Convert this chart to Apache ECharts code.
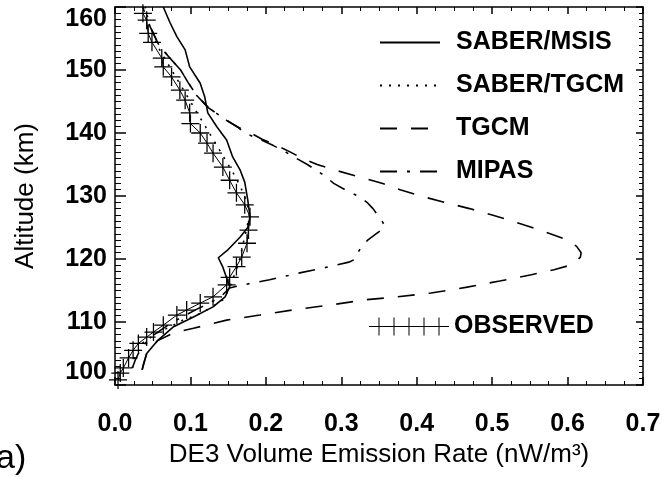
<!DOCTYPE html>
<html><head><meta charset="utf-8">
<script src="https://cdn.jsdelivr.net/npm/echarts@6/dist/echarts.min.js"></script>
<style>html,body{margin:0;padding:0;background:#fff}#c{width:662px;height:477px}</style>
</head><body><div id="c"></div>
<script>
const FONT = '"Liberation Sans", Arial, Helvetica, sans-serif';

// ---- data: altitude (km) and DE3 VER (nW/m^3) ----
const msisAlt = [102.4, 103, 105, 107, 109.2, 110.8, 112.4, 114, 115.6, 117, 118.7, 120.2, 121.5, 123.5, 125, 126.7, 129.4, 132.2, 134.1, 136.2, 138.9, 141, 143.2, 145.7, 147.9, 150.5, 153.2, 155.3, 157.5, 160];
const msisVal = [0.036, 0.037, 0.042, 0.056, 0.077, 0.104, 0.130, 0.146, 0.152, 0.148, 0.143, 0.137, 0.150, 0.166, 0.176, 0.179, 0.176, 0.172, 0.166, 0.156, 0.148, 0.135, 0.123, 0.119, 0.113, 0.099, 0.093, 0.082, 0.073, 0.064];

const stgcmAlt = [102.7, 104.4, 106.7, 108.3, 109.2, 110.3, 111.1, 112.2, 113.5, 115.4, 116.7, 118.7, 120.3, 122.5, 125, 127, 129, 131, 133, 135, 137, 139, 141, 143, 145, 147, 149, 151, 153, 155, 157, 160];
const stgcmVal = [0.023, 0.026, 0.037, 0.056, 0.073, 0.090, 0.109, 0.126, 0.143, 0.152, 0.156, 0.162, 0.166, 0.170, 0.175, 0.178, 0.175, 0.168, 0.160, 0.150, 0.140, 0.130, 0.120, 0.110, 0.100, 0.090, 0.080, 0.070, 0.060, 0.052, 0.046, 0.040];

const tgcmAlt = [102.4, 105, 107, 108.3, 109, 110.3, 111.1, 112, 112.7, 113.5, 114, 114.6, 115.5, 116.5, 117.5, 118.3, 119, 119.5, 120.3, 121, 122, 123, 124, 125, 126, 127, 128, 129, 130, 131, 132, 133, 134, 135, 136, 137, 138, 139, 140, 141, 142, 144, 146, 148, 150, 152, 154, 156, 158, 160];
const tgcmVal = [0.036, 0.042, 0.056, 0.078, 0.104, 0.148, 0.192, 0.240, 0.286, 0.330, 0.375, 0.419, 0.465, 0.510, 0.552, 0.582, 0.603, 0.610, 0.617, 0.618, 0.612, 0.600, 0.577, 0.553, 0.527, 0.500, 0.470, 0.437, 0.405, 0.378, 0.355, 0.325, 0.295, 0.268, 0.248, 0.232, 0.215, 0.195, 0.180, 0.162, 0.148, 0.124, 0.108, 0.097, 0.087, 0.072, 0.058, 0.050, 0.042, 0.037];

const mipasAlt = [102.7, 104, 105, 106, 107, 108, 109, 110, 111, 112, 113, 114, 115.4, 115.9, 116.7, 117.8, 118.8, 119.5, 120, 121, 122, 123, 124, 124.5, 125.2, 126, 127, 128, 129, 130, 131, 132, 133, 134, 135, 136, 137, 138, 139, 140, 141, 142, 144, 146, 148, 150, 152, 154, 156, 158, 160];
const mipasVal = [0.023, 0.027, 0.031, 0.036, 0.043, 0.052, 0.064, 0.077, 0.092, 0.108, 0.125, 0.140, 0.152, 0.170, 0.205, 0.245, 0.285, 0.310, 0.319, 0.322, 0.327, 0.335, 0.346, 0.352, 0.358, 0.354, 0.348, 0.342, 0.334, 0.322, 0.305, 0.290, 0.280, 0.268, 0.255, 0.240, 0.226, 0.210, 0.192, 0.172, 0.162, 0.148, 0.124, 0.108, 0.097, 0.087, 0.072, 0.058, 0.050, 0.042, 0.037];

const obsAlt = [100.8, 101.9, 102.7, 104.3, 105.5, 106.6, 107.6, 108.4, 109.5, 111.1, 111.9, 113.0, 114.0, 115.9, 117.1, 118.8, 120.3, 122.5, 124.6, 126.7, 128.6, 130.5, 132.5, 134.6, 136.8, 138.4, 140.0, 141.5, 143.2, 145.2, 146.8, 148.9, 150.5, 151.9, 154.4, 155.8, 157.9, 159.0];
const obsVal = [0.004, 0.007, 0.011, 0.018, 0.024, 0.031, 0.042, 0.051, 0.064, 0.082, 0.095, 0.113, 0.130, 0.148, 0.152, 0.161, 0.168, 0.175, 0.177, 0.179, 0.172, 0.161, 0.152, 0.143, 0.130, 0.122, 0.113, 0.100, 0.099, 0.093, 0.086, 0.075, 0.064, 0.062, 0.049, 0.044, 0.042, 0.037];

const seriesNames = ['SABER/MSIS', 'SABER/TGCM', 'TGCM', 'MIPAS', 'OBSERVED'];
const xTickLabels = ['0.0', '0.1', '0.2', '0.3', '0.4', '0.5', '0.6', '0.7'];
const yTickLabels = ['100', '110', '120', '130', '140', '150', '160'];
const xTitle = 'DE3 Volume Emission Rate (nW/m\u00B3)';
const yTitle = 'Altitude (km)';
const panelLabel = 'a)';

const pair = (v, a) => v.map((x, i) => [x, a[i]]);

const PLUS = 'path://M-1,-0.07L-0.07,-0.07L-0.07,-1L0.07,-1L0.07,-0.07L1,-0.07L1,0.07L0.07,0.07L0.07,1L-0.07,1L-0.07,0.07L-1,0.07Z';
// legend sample: a line with five plus signs (80 x 18 box)
let legPath = 'path://M0,8.5L80,8.5L80,9.5L0,9.5Z';
[10, 25, 40, 55, 70].forEach(x => { legPath += 'M' + (x - 0.5) + ',0L' + (x + 0.5) + ',0L' + (x + 0.5) + ',18L' + (x - 0.5) + ',18Z'; });

const chart = echarts.init(document.getElementById('c'), null, {renderer: 'canvas'});
const axisCommonX = {
  type: 'value', min: 0, max: 0.7, interval: 0.1,
  axisLine: {show: true, onZero: false, lineStyle: {color: '#000', width: 1.5}},
  splitLine: {show: false},
  minorTick: {show: true, splitNumber: 4, length: 4, lineStyle: {color: '#000', width: 1}},
  axisTick: {show: true, inside: true, length: 8, lineStyle: {color: '#000', width: 1.5}}
};
const axisCommonY = {
  type: 'value', min: 100, max: 160, interval: 10,
  axisLine: {show: true, onZero: false, lineStyle: {color: '#000', width: 1.5}},
  splitLine: {show: false},
  minorTick: {show: true, splitNumber: 10, length: 6, lineStyle: {color: '#000', width: 1}},
  axisTick: {show: true, inside: true, length: 11, lineStyle: {color: '#000', width: 1.5}}
};
const lineSeries = (name, data, type) => ({
  name, type: 'line', data, symbol: 'none', xAxisIndex: 0, yAxisIndex: 0,
  lineStyle: {color: '#000', width: 1.6, type}, itemStyle: {color: '#000'},
  clip: true, silent: true, z: 3
});

chart.setOption({
  animation: false,
  backgroundColor: '#fff',
  grid: {left: 115, right: 19, top: 7, bottom: 92, containLabel: false, outerBoundsMode: 'none'},
  xAxis: [
    Object.assign({}, axisCommonX, {
      position: 'bottom', name: xTitle, nameLocation: 'middle', nameGap: 55,
      nameTextStyle: {fontFamily: FONT, fontSize: 26, color: '#000'},
      axisLabel: {show: true, margin: 27, fontFamily: FONT, fontSize: 25, fontWeight: 'bold', color: '#000',
        formatter: v => xTickLabels[Math.round(v * 10)]}
    }),
    Object.assign({}, axisCommonX, {
      position: 'top', axisLabel: {show: false},
      axisTick: {show: true, inside: true, length: 7, lineStyle: {color: '#000', width: 1.5}}
    })
  ],
  yAxis: [
    Object.assign({}, axisCommonY, {
      position: 'left', name: yTitle, nameLocation: 'middle', nameGap: 76, nameRotate: 90,
      nameTextStyle: {fontFamily: FONT, fontSize: 26, color: '#000'},
      axisLabel: {show: true, margin: 8, fontFamily: FONT, fontSize: 25, fontWeight: 'bold', color: '#000',
        verticalAlignMaxLabel: 'top', verticalAlignMinLabel: 'bottom',
        formatter: v => yTickLabels[Math.round((v - 100) / 10)]}
    }),
    Object.assign({}, axisCommonY, {
      position: 'right', axisLabel: {show: false},
      axisTick: {show: true, inside: true, length: 7, lineStyle: {color: '#000', width: 1.5}},
      minorTick: {show: true, splitNumber: 10, length: 4, lineStyle: {color: '#000', width: 1}}
    })
  ],
  legend: [
    {
      data: seriesNames.slice(0, 4), orient: 'vertical', left: 374, top: 25,
      itemWidth: 60, itemHeight: 25, itemGap: 18, selectedMode: false,
      itemStyle: {color: 'rgba(0,0,0,0)', borderWidth: 0},
      textStyle: {fontFamily: FONT, fontSize: 25, fontWeight: 'bold', color: '#000', padding: [0, 0, 0, 11]}
    },
    {
      data: [{name: seriesNames[4], icon: legPath}], orient: 'vertical', left: 364, top: 309,
      itemWidth: 80, itemHeight: 18, selectedMode: false,
      textStyle: {fontFamily: FONT, fontSize: 25, fontWeight: 'bold', color: '#000'}
    }
  ],
  graphic: [{
    type: 'text', left: -4, top: 442,
    style: {text: panelLabel, font: '34px ' + FONT, fill: '#000'}
  }],
  series: [
    lineSeries(seriesNames[0], pair(msisVal, msisAlt), 'solid'),
    lineSeries(seriesNames[1], pair(stgcmVal, stgcmAlt), [2, 7]),
    lineSeries(seriesNames[2], pair(tgcmVal, tgcmAlt), [17, 14]),
    lineSeries(seriesNames[3], pair(mipasVal, mipasAlt), [17, 10, 3, 10]),
    {
      name: seriesNames[4], type: 'line', data: pair(obsVal, obsAlt),
      symbol: PLUS, symbolSize: 18, showSymbol: true, showAllSymbol: true,
      lineStyle: {color: '#000', width: 1}, itemStyle: {color: '#000'},
      silent: true, z: 4
    }
  ]
});
</script></body></html>
